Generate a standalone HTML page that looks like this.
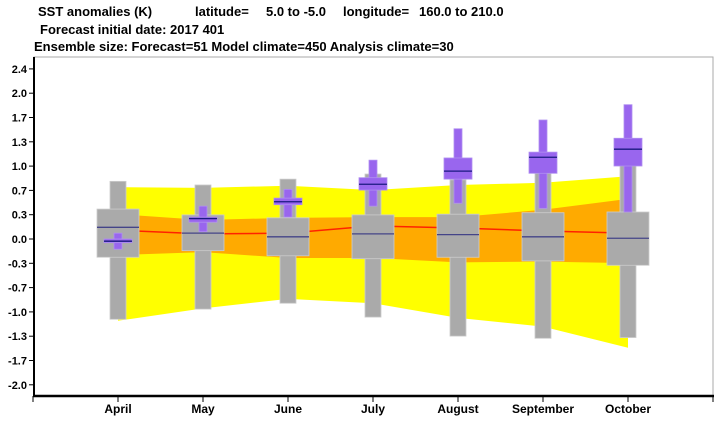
<!DOCTYPE html>
<html><head><meta charset="utf-8"><style>
html,body{margin:0;padding:0;background:#fff;}
svg{display:block;font-family:"Liberation Sans",Arial,sans-serif;font-weight:bold;}
</style></head><body>
<svg id="chart" width="720" height="421" viewBox="0 0 720 421" xmlns="http://www.w3.org/2000/svg">
<g font-size="13" fill="#000">
<text x="38" y="16">SST anomalies (K)</text>
<text x="195" y="16">latitude=</text>
<text x="266" y="16">5.0 to  -5.0</text>
<text x="343" y="16">longitude=</text>
<text x="419" y="16">160.0 to  210.0</text>
<text x="40" y="34">Forecast initial date: 2017 401</text>
<text x="34" y="51">Ensemble size: Forecast=51 Model climate=450 Analysis climate=30</text>
</g>
<g id="plot"></g>
</svg>
<script>
const months = ["April","May","June","July","August","September","October"];
// analysis climate bands
const yellowTop = [0.71,0.70,0.73,0.67,0.74,0.77,0.86];
const yellowBot = [-1.12,-0.95,-0.82,-0.88,-1.08,-1.20,-1.49];
const orangeTop = [0.34,0.26,0.29,0.30,0.30,0.40,0.55];
const orangeBot = [-0.22,-0.18,-0.26,-0.26,-0.32,-0.31,-0.33];
const redLine = [0.12,0.07,0.08,0.18,0.15,0.11,0.08];
// model climate (gray)
const climMin = [-1.10,-0.96,-0.88,-1.07,-1.33,-1.36,-1.35];
const climQ1 = [-0.25,-0.16,-0.23,-0.27,-0.25,-0.30,-0.36];
const climMed = [0.16,0.08,0.03,0.07,0.06,0.03,0.01];
const climQ3 = [0.41,0.33,0.29,0.33,0.34,0.36,0.37];
const climMax = [0.79,0.74,0.82,0.89,0.81,0.90,1.02];
// forecast (purple)
const fcMin = [-0.14,0.10,0.30,0.45,0.49,0.42,0.37];
const fcQ1 = [-0.05,0.23,0.47,0.67,0.82,0.90,1.00];
const fcMed = [-0.03,0.28,0.51,0.75,0.93,1.12,1.23];
const fcQ3 = [0.00,0.30,0.56,0.84,1.11,1.19,1.38];
const fcMax = [0.08,0.45,0.68,1.08,1.51,1.63,1.84];
const yTickVals = [7,6,5,4,3,2,1,0,-1,-2,-3,-4,-5,-6];
const yTickLabels = ["2.4","2.0","1.7","1.3","1.0","0.7","0.3","0.0","-0.3","-0.7","-1.0","-1.3","-1.7","-2.0"];

const NS="http://www.w3.org/2000/svg";
const plot=document.getElementById('plot');
const y=v=>239-v*73;
const x=i=>33+85*(i+1);
function mk(tag,attrs,parent){const e=document.createElementNS(NS,tag);for(const k in attrs)e.setAttribute(k,attrs[k]);(parent||plot).appendChild(e);return e;}

// frame
let e=mk('rect',{x:34,y:57,width:679,height:339,fill:'none',stroke:'#aaa','stroke-width':1});



function band(top,bot,color,name){
  let pts=top.map((v,i)=>x(i)+','+y(v));
  for(let i=bot.length-1;i>=0;i--)pts.push(x(i)+','+y(bot[i]));
  const p=mk('polygon',{points:pts.join(' '),fill:color});
  
  
}
band(yellowTop,yellowBot,'#ffff00','analysis-range-band');
band(orangeTop,orangeBot,'#ffaa00','analysis-iqr-band');
e=mk('polyline',{points:redLine.map((v,i)=>x(i)+','+y(v)).join(' '),fill:'none',stroke:'#ff2200','stroke-width':1.5});



function box(i,mn,q1,md,q3,mx,ww,bw,fill,stroke,medc,name){
  const g=mk('g',{});
  
  
  mk('rect',{x:x(i)-ww/2,y:y(mx),width:ww,height:y(mn)-y(mx),fill:fill,stroke:stroke,'stroke-width':0.8},g);
  mk('rect',{x:x(i)-bw/2,y:y(q3),width:bw,height:y(q1)-y(q3),fill:fill,stroke:stroke,'stroke-width':0.8},g);
  mk('line',{x1:x(i)-bw/2,x2:x(i)+bw/2,y1:y(md),y2:y(md),stroke:medc,'stroke-width':1.3},g);
}
months.forEach((m,i)=>box(i,climMin[i],climQ1[i],climMed[i],climQ3[i],climMax[i],16,42,'#aaaaaa','#cccccc','#444488','model-climate-box-'+m.toLowerCase()));
months.forEach((m,i)=>box(i,fcMin[i],fcQ1[i],fcMed[i],fcQ3[i],fcMax[i],8,28,'#9966ee','#b090f0','#1a1a80','forecast-box-'+m.toLowerCase()));

// axes
e=mk('line',{x1:34,y1:57,x2:34,y2:397,stroke:'#000','stroke-width':2});


e=mk('line',{x1:33,y1:396,x2:714,y2:396,stroke:'#000','stroke-width':2.5});


yTickVals.forEach((t,k)=>{
  const yy=239-t*24.3;
  let l=mk('line',{x1:29,x2:34,y1:yy,y2:yy,stroke:'#000','stroke-width':1});
  
  
  let tx=mk('text',{x:27,y:yy+4,'font-size':11,'text-anchor':'end',fill:'#000'});
  tx.textContent=yTickLabels[k];
  
  
});
for(let k=-1;k<=months.length;k++){
  let l=mk('line',{x1:x(k),x2:x(k),y1:396,y2:402,stroke:'#000','stroke-width':1});
  
  
}
months.forEach((m,i)=>{
  let tx=mk('text',{x:x(i),y:413,'font-size':12,'text-anchor':'middle',fill:'#000'});
  tx.textContent=m;
  
  
});
</script>
</body></html>
